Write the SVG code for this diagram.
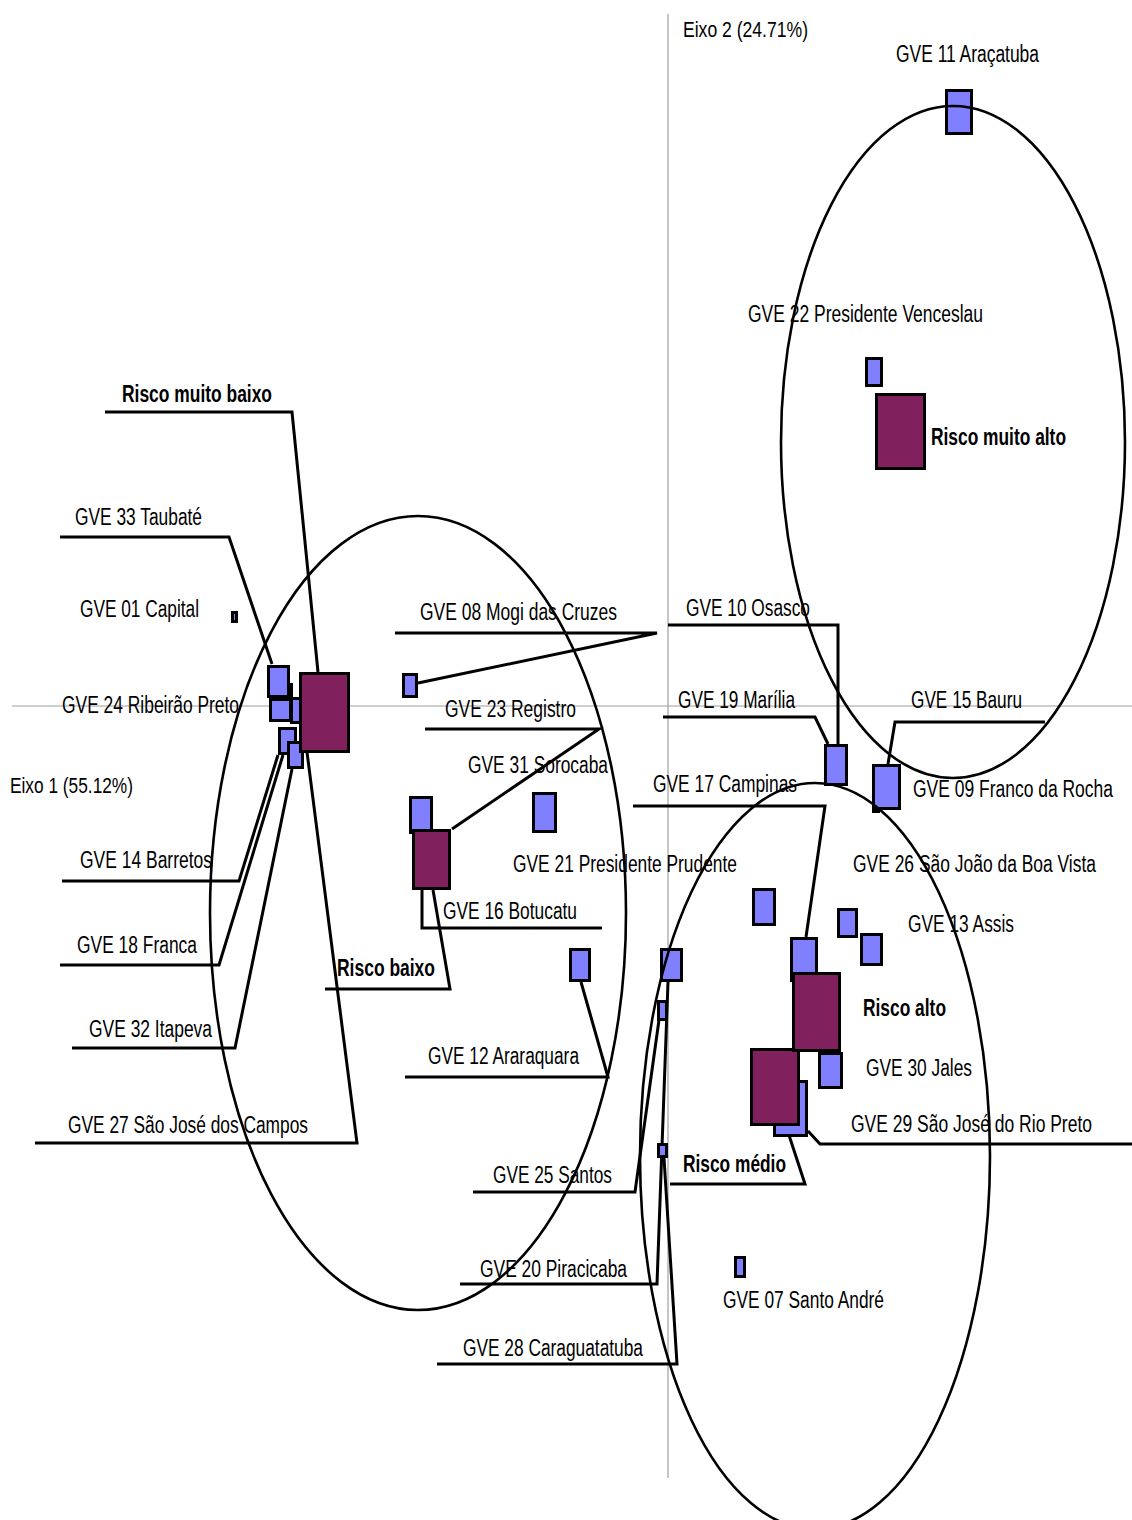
<svg xmlns="http://www.w3.org/2000/svg" width="1132" height="1520" viewBox="0 0 1132 1520">
<style>
.axis{stroke:#a0a0a0;stroke-width:1.2;fill:none}
.ell{stroke:#000;stroke-width:2.6;fill:none}
.ld{stroke:#000;stroke-width:3;fill:none;stroke-linejoin:miter}
.b{fill:#8080ff;stroke:#000;stroke-width:3}
.p{fill:#80205c;stroke:#000;stroke-width:3}
text{font-family:"Liberation Sans",Arial,sans-serif;font-size:23px;fill:#000}
.bold{font-weight:bold}
.ax{font-size:22.5px}
</style>
<rect width="1132" height="1520" fill="#fff"/>
<g id="axes">
<line class="axis" x1="12" y1="706" x2="1132" y2="706"/>
<line class="axis" x1="668" y1="14" x2="668" y2="1478"/>
</g>
<g id="connectors">
<polyline class="ld" points="105,412 292,412 318,672"/>
<polyline class="ld" points="60,537 229,537 272,664"/>
<polyline class="ld" points="62,881 239,881 278,755"/>
<polyline class="ld" points="60,965 219,965 283,755"/>
<polyline class="ld" points="72,1048 235,1048 292,769"/>
<polyline class="ld" points="35,1143 357,1143 307,752"/>
<polyline class="ld" points="395,633 657,633 418,683"/>
<polyline class="ld" points="425,729 599,729 452,829"/>
<polyline class="ld" points="602,928 422,928 422,890"/>
<polyline class="ld" points="325,989 450,989 433,890"/>
<polyline class="ld" points="405,1077 608,1077 581,982"/>
<polyline class="ld" points="473,1192 635,1192 659,1020"/>
<polyline class="ld" points="460,1284 657,1284 668,982"/>
<polyline class="ld" points="437,1364 677,1364 664,1158"/>
<polyline class="ld" points="668,625 838,625 838,744"/>
<polyline class="ld" points="663,717 815,717 828,744"/>
<polyline class="ld" points="1045,722 895,722 888,764"/>
<polyline class="ld" points="633,806 825,806 806,937"/>
<polyline class="ld" points="670,1184 805,1184 786,1126"/>
<polyline class="ld" points="1132,1144 820,1144 808,1131"/>
</g>
<g id="nodes">
<g id="gve11"><rect class="b" x="946.5" y="90.5" width="25" height="43"/></g>
<g id="gve22"><rect class="b" x="866.5" y="358.5" width="15" height="27"/></g>
<g id="risco-muito-alto"><rect class="p" x="876.5" y="394.5" width="48" height="74"/></g>
<g id="gve01"><rect class="b" x="232.5" y="612.5" width="4" height="9"/></g>
<g id="cluster-hidden1"><rect class="b" x="271.5" y="684.5" width="20" height="36"/></g>
<g id="cluster-hidden2"><rect class="b" x="291.5" y="698.5" width="12" height="24"/></g>
<g id="gve33"><rect class="b" x="268.5" y="666.5" width="20" height="30"/></g>
<g id="gve24"><rect class="b" x="270.5" y="699.5" width="20" height="21"/></g>
<g id="gve14"><rect class="b" x="279.5" y="728.5" width="16" height="25"/></g>
<g id="gve32"><rect class="b" x="288.5" y="742.5" width="14" height="25"/></g>
<g id="risco-muito-baixo"><rect class="p" x="300.5" y="673.5" width="48" height="78"/></g>
<g id="gve08"><rect class="b" x="403.5" y="674.5" width="13" height="22"/></g>
<g id="gve31"><rect class="b" x="410.5" y="797.5" width="21" height="35"/></g>
<g id="risco-baixo"><rect class="p" x="413.5" y="830.5" width="36" height="58"/></g>
<g id="gve21"><rect class="b" x="533.5" y="793.5" width="22" height="38"/></g>
<g id="gve12"><rect class="b" x="570.5" y="949.5" width="19" height="31"/></g>
<g id="gve20"><rect class="b" x="661.5" y="949.5" width="20" height="31"/></g>
<g id="gve25"><rect class="b" x="658.5" y="1001.5" width="8" height="18"/></g>
<g id="gve28"><rect class="b" x="658.5" y="1144.5" width="8" height="12"/></g>
<g id="gve07"><rect class="b" x="735.5" y="1257.5" width="9" height="19"/></g>
<g id="gve19"><rect class="b" x="825.5" y="745.5" width="21" height="39"/></g>
<g id="gve09-small"><rect class="b" x="873.5" y="801.5" width="5" height="10"/></g>
<g id="gve15"><rect class="b" x="873.5" y="765.5" width="26" height="43"/></g>
<g id="gve26"><rect class="b" x="753.5" y="889.5" width="21" height="35"/></g>
<g id="gve13a"><rect class="b" x="838.5" y="909.5" width="18" height="27"/></g>
<g id="gve13b"><rect class="b" x="861.5" y="934.5" width="20" height="30"/></g>
<g id="gve29"><rect class="b" x="774.5" y="1081.5" width="32" height="54"/></g>
<g id="risco-medio"><rect class="p" x="751.5" y="1049.5" width="47" height="75"/></g>
<g id="gve17"><rect class="b" x="791.5" y="938.5" width="25" height="42"/></g>
<g id="risco-alto"><rect class="p" x="793.5" y="973.5" width="46" height="77"/></g>
<g id="gve30"><rect class="b" x="819.5" y="1053.5" width="22" height="34"/></g>
</g>
<g id="labels">
<text class="ax" x="683" y="37" textLength="125" lengthAdjust="spacingAndGlyphs">Eixo 2 (24.71%)</text>
<text class="ax" x="10" y="793" textLength="123" lengthAdjust="spacingAndGlyphs">Eixo 1 (55.12%)</text>
<text x="896" y="62" textLength="143" lengthAdjust="spacingAndGlyphs">GVE 11 Araçatuba</text>
<text x="748" y="322" textLength="235" lengthAdjust="spacingAndGlyphs">GVE 22 Presidente Venceslau</text>
<text class="bold" x="931" y="445" textLength="135" lengthAdjust="spacingAndGlyphs">Risco muito alto</text>
<text class="bold" x="122" y="402" textLength="150" lengthAdjust="spacingAndGlyphs">Risco muito baixo</text>
<text x="75" y="525" textLength="127" lengthAdjust="spacingAndGlyphs">GVE 33 Taubaté</text>
<text x="80" y="617" textLength="119" lengthAdjust="spacingAndGlyphs">GVE 01 Capital</text>
<text x="62" y="713" textLength="177" lengthAdjust="spacingAndGlyphs">GVE 24 Ribeirão Preto</text>
<text x="420" y="620" textLength="197" lengthAdjust="spacingAndGlyphs">GVE 08 Mogi das Cruzes</text>
<text x="445" y="717" textLength="131" lengthAdjust="spacingAndGlyphs">GVE 23 Registro</text>
<text x="468" y="773" textLength="140" lengthAdjust="spacingAndGlyphs">GVE 31 Sorocaba</text>
<text x="686" y="616" textLength="124" lengthAdjust="spacingAndGlyphs">GVE 10 Osasco</text>
<text x="678" y="708" textLength="117" lengthAdjust="spacingAndGlyphs">GVE 19 Marília</text>
<text x="911" y="708" textLength="111" lengthAdjust="spacingAndGlyphs">GVE 15 Bauru</text>
<text x="653" y="792" textLength="144" lengthAdjust="spacingAndGlyphs">GVE 17 Campinas</text>
<text x="913" y="797" textLength="200" lengthAdjust="spacingAndGlyphs">GVE 09 Franco da Rocha</text>
<text x="80" y="868" textLength="132" lengthAdjust="spacingAndGlyphs">GVE 14 Barretos</text>
<text x="77" y="953" textLength="120" lengthAdjust="spacingAndGlyphs">GVE 18 Franca</text>
<text x="89" y="1037" textLength="123" lengthAdjust="spacingAndGlyphs">GVE 32 Itapeva</text>
<text x="68" y="1133" textLength="240" lengthAdjust="spacingAndGlyphs">GVE 27 São José dos Campos</text>
<text class="bold" x="337" y="976" textLength="98" lengthAdjust="spacingAndGlyphs">Risco baixo</text>
<text x="513" y="872" textLength="224" lengthAdjust="spacingAndGlyphs">GVE 21 Presidente Prudente</text>
<text x="443" y="919" textLength="134" lengthAdjust="spacingAndGlyphs">GVE 16 Botucatu</text>
<text x="428" y="1064" textLength="151" lengthAdjust="spacingAndGlyphs">GVE 12 Araraquara</text>
<text x="493" y="1183" textLength="119" lengthAdjust="spacingAndGlyphs">GVE 25 Santos</text>
<text x="853" y="872" textLength="243" lengthAdjust="spacingAndGlyphs">GVE 26 São João da Boa Vista</text>
<text x="908" y="932" textLength="106" lengthAdjust="spacingAndGlyphs">GVE 13 Assis</text>
<text class="bold" x="863" y="1016" textLength="83" lengthAdjust="spacingAndGlyphs">Risco alto</text>
<text x="866" y="1076" textLength="106" lengthAdjust="spacingAndGlyphs">GVE 30 Jales</text>
<text x="851" y="1132" textLength="241" lengthAdjust="spacingAndGlyphs">GVE 29 São José do Rio Preto</text>
<text class="bold" x="683" y="1172" textLength="103" lengthAdjust="spacingAndGlyphs">Risco médio</text>
<text x="480" y="1277" textLength="147" lengthAdjust="spacingAndGlyphs">GVE 20 Piracicaba</text>
<text x="723" y="1308" textLength="161" lengthAdjust="spacingAndGlyphs">GVE 07 Santo André</text>
<text x="463" y="1356" textLength="180" lengthAdjust="spacingAndGlyphs">GVE 28 Caraguatatuba</text>
</g>
<g id="clusters">
<ellipse class="ell" cx="953" cy="442" rx="172" ry="336"/>
<ellipse class="ell" cx="418" cy="913" rx="208" ry="397"/>
<ellipse class="ell" cx="815" cy="1156" rx="175" ry="373"/>
</g>
</svg>
